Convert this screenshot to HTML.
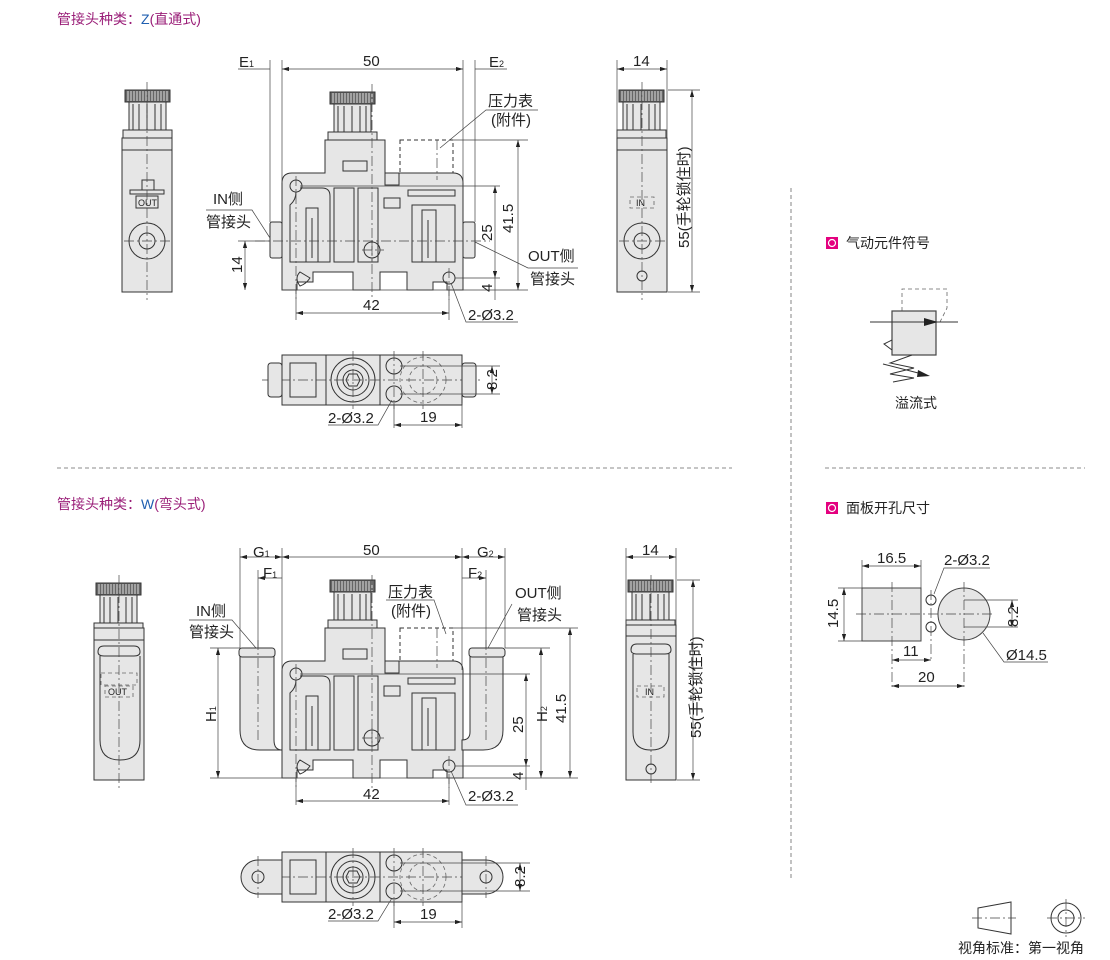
<!DOCTYPE html>
<html><head><meta charset="utf-8"><style>
html,body{margin:0;padding:0;background:#fff;}
svg{display:block;font-family:"Liberation Sans","Noto Sans CJK SC",sans-serif;}
text{fill:#222;font-size:15px;}
.o{fill:#e6e6e6;stroke:#333;stroke-width:1;}
.n{fill:none;stroke:#333;stroke-width:1;}
.t{fill:none;stroke:#444;stroke-width:.7;}
.c{fill:none;stroke:#444;stroke-width:.7;stroke-dasharray:10 3 2 3;}
.d{fill:none;stroke:#666;stroke-width:.8;stroke-dasharray:4 3;}
</style></head><body>
<svg width="1110" height="960" viewBox="0 0 1110 960" xmlns="http://www.w3.org/2000/svg">
<defs>
<marker id="a" viewBox="0 0 10 6" refX="10" refY="3" markerWidth="10" markerHeight="6" orient="auto-start-reverse"><path d="M0,0L10,3L0,6z" fill="#222"/></marker>
<g id="knob">
<rect x="0" y="0" width="45" height="12" fill="#666" stroke="#333"/>
<path d="M3,1v10M6,1v10M9,1v10M12,1v10M15,1v10M18,1v10M21,1v10M24,1v10M27,1v10M30,1v10M33,1v10M36,1v10M39,1v10M42,1v10" stroke="#ddd" stroke-width="1"/>
<rect class="o" x="4" y="12" width="37" height="36"/>
<path class="n" d="M8,14v32M14,14v32M22,14v32M30,14v32M36,14v32"/>
<rect class="o" x="-2" y="40" width="49" height="8"/>
</g>
<g id="body">
<path class="o" d="M282,183q0,-10 10,-10H325V140H385V173H453q10,0 10,10V290H447V282H433V290H407V272H380V290H353V272H313V282H297V290H282Z"/>
<rect class="o" x="400" y="140" width="53" height="33" style="fill:none;stroke-dasharray:4 3"/>
<rect class="o" x="343" y="161" width="24" height="10"/>
<rect class="o" x="385" y="173" width="14" height="12"/>
<path class="n" d="M300,188H322Q330,188 330,196V262H290V205Q296,200 296,192M306,208H318V262H306ZM312,218V258M334,188H354V262H334ZM358,188H378V262H358ZM408,190H455V196H408ZM384,198H400V208H384ZM412,205H455V262H412ZM422,210H436V262H422ZM428,220V258"/>
<circle class="n" cx="296" cy="186" r="6"/><circle class="n" cx="449" cy="278" r="6"/><circle class="n" cx="372" cy="250" r="8"/>
<path class="c" d="M296,176V300M449,268V300M372,240V262M362,250H384"/>
<path class="n" d="M300,272q-6,6 0,14q6,-2 10,-8z"/>
</g>
<g id="bottom">
<rect class="o" x="282" y="0" width="180" height="50"/>
<path class="n" d="M326,0V50M380,0V50"/>
<rect class="o" x="290" y="8" width="26" height="34"/>
<circle class="n" cx="353" cy="25" r="22"/><circle class="n" cx="353" cy="25" r="16"/><circle class="n" cx="353" cy="25" r="10"/>
<path class="n" d="M346,25l3,-6h8l3,6l-3,6h-8z"/>
<circle class="n" cx="394" cy="11" r="8"/><circle class="n" cx="394" cy="39" r="8"/>
<circle class="d" cx="423" cy="25" r="23"/><circle class="d" cx="423" cy="25" r="14"/>
<path class="c" d="M262,25H480M353,-4V54M394,-4V54M423,-4V54"/>
</g>
</defs>

<text x="57" y="24" style="fill:#9a1e78;font-size:14px">管接头种类：<tspan style="fill:#1f5fb0">Z</tspan>(直通式)</text>
<text x="57" y="509" style="fill:#9a1e78;font-size:14px">管接头种类：<tspan style="fill:#1f5fb0">W</tspan>(弯头式)</text>
<path class="d" d="M57,468H732M825,468H1085M791,188V880"/>

<use href="#knob" x="125" y="90"/>
<rect class="o" x="122" y="138" width="50" height="154"/>
<path class="n" d="M122,150H172M142,180h12v10h-12zM130,190H164V194H130ZM136,196h22v12h-22z"/>
<text x="138" y="206" style="font-size:9px">OUT</text>
<circle class="n" cx="147" cy="241" r="18"/><circle class="n" cx="147" cy="241" r="8"/>
<path class="c" d="M147,82V300M124,241H170"/>

<use href="#knob" x="330" y="92"/>
<use href="#body"/>
<rect class="o" x="270" y="222" width="12" height="36" rx="2"/><rect class="o" x="463" y="222" width="12" height="36" rx="2"/>
<path class="c" d="M255,241H490M372,84V300M437,140V180"/>
<path class="t" d="M270,60V222M282,60V183M463,60V183M475,60V222"/>
<path class="t" d="M282,69H463" marker-start="url(#a)" marker-end="url(#a)"/>
<path class="t" d="M238,69H270M475,69H507"/>
<text x="363" y="66">50</text><text x="239" y="67">E<tspan font-size="9">1</tspan></text><text x="489" y="67">E<tspan font-size="9">2</tspan></text>
<path class="t" d="M453,140H528M300,186H500M455,278H500M282,290H528M296,290V320M449,290V320"/>
<path class="t" d="M518,140V290" marker-start="url(#a)" marker-end="url(#a)"/>
<path class="t" d="M495,186V278" marker-start="url(#a)" marker-end="url(#a)"/>
<path class="t" d="M495,278V300"/>
<text transform="translate(513,233) rotate(-90)">41.5</text>
<text transform="translate(492,241) rotate(-90)">25</text>
<text transform="translate(492,292) rotate(-90)">4</text>
<path class="t" d="M245,241V290" marker-start="url(#a)" marker-end="url(#a)"/>
<path class="t" d="M238,241H270"/>
<text transform="translate(242,273) rotate(-90)">14</text>
<path class="t" d="M296,313H449" marker-start="url(#a)" marker-end="url(#a)"/>
<text x="363" y="310">42</text>
<path class="t" d="M451,283L466,322H518"/><text x="468" y="320">2-Ø3.2</text>
<text x="488" y="106">压力表</text><text x="491" y="125">(附件)</text>
<path class="t" d="M538,110H486L440,148"/>
<text x="213" y="204">IN侧</text><text x="206" y="227">管接头</text>
<path class="t" d="M206,210H252L270,238"/>
<text x="528" y="261">OUT侧</text><text x="530" y="284">管接头</text>
<path class="t" d="M578,268H528L475,242"/>

<use href="#knob" x="619" y="90"/>
<rect class="o" x="617" y="138" width="50" height="154"/>
<path class="n" d="M617,150H667"/>
<rect class="d" x="630" y="197" width="24" height="11"/><text x="636" y="206" style="font-size:9px">IN</text>
<circle class="n" cx="642" cy="241" r="18"/><circle class="n" cx="642" cy="241" r="8"/>
<circle class="n" cx="642" cy="276" r="5"/>
<path class="c" d="M642,82V300M619,241H665"/>
<path class="t" d="M617,60V138M667,60V138"/>
<path class="t" d="M617,69H667" marker-start="url(#a)" marker-end="url(#a)"/>
<text x="633" y="66">14</text>
<path class="t" d="M668,90H700M668,292H700"/>
<path class="t" d="M692,90V292" marker-start="url(#a)" marker-end="url(#a)"/>
<text transform="translate(689,248) rotate(-90)">55(手轮锁住时)</text>

<use href="#bottom" y="355"/>
<rect class="o" x="268" y="363" width="14" height="34" rx="3"/><rect class="o" x="462" y="363" width="14" height="34" rx="3"/>
<path class="t" d="M400,366H500M400,394H500"/>
<path class="t" d="M492,366V394" marker-start="url(#a)" marker-end="url(#a)"/>
<text transform="translate(497,390) rotate(-90)">8.2</text>
<path class="t" d="M394,403V428M462,403V428"/>
<path class="t" d="M394,425H462" marker-start="url(#a)" marker-end="url(#a)"/>
<text x="420" y="422">19</text>
<path class="t" d="M392,400L378,425H328"/><text x="328" y="423">2-Ø3.2</text>

<use href="#knob" x="96" y="583"/>
<rect class="o" x="94" y="628" width="50" height="152"/>
<path class="n" d="M94,640H144M98,652q0,-6 6,-6h30q6,0 6,6q0,4 -6,4h-30q-6,0 -6,-4M100,656V740q0,20 20,20q20,0 20,-20V656"/>
<rect class="d" x="101" y="673" width="36" height="12"/><rect class="d" x="105" y="686" width="28" height="11"/>
<text x="108" y="695" style="font-size:9px">OUT</text>
<path class="c" d="M119,575V790"/>

<use href="#knob" x="330" y="580"/>
<g transform="translate(0,488)"><use href="#body"/></g>
<path class="o" d="M240,656H274V740q0,10 8,10V750H260q-20,0 -20,-20Z"/>
<path class="o" d="M470,656H503V730q0,20 -20,20H462V740q8,0 8,-8Z"/>
<rect class="o" x="239" y="648" width="36" height="9" rx="3"/><rect class="o" x="469" y="648" width="36" height="9" rx="3"/>
<path class="c" d="M372,575V790M258,640V740M486,640V740M437,628V668"/>
<path class="t" d="M240,548V648M282,548V670M462,548V670M505,548V648M258,570V648M486,570V648"/>
<path class="t" d="M282,557H462" marker-start="url(#a)" marker-end="url(#a)"/>
<path class="t" d="M240,557H282" marker-start="url(#a)" marker-end="url(#a)"/>
<path class="t" d="M462,557H505" marker-start="url(#a)" marker-end="url(#a)"/>
<path class="t" d="M282,578H258" marker-end="url(#a)"/><path class="t" d="M462,578H486" marker-end="url(#a)"/>
<text x="363" y="555">50</text><text x="253" y="557">G<tspan font-size="9">1</tspan></text><text x="477" y="557">G<tspan font-size="9">2</tspan></text>
<text x="263" y="578">F<tspan font-size="9">1</tspan></text><text x="468" y="578">F<tspan font-size="9">2</tspan></text>
<path class="t" d="M210,648H240M505,648H550M453,628H578M300,674H530M455,766H530M282,778H578M296,778V805M449,778V805"/>
<path class="t" d="M218,648V778" marker-start="url(#a)" marker-end="url(#a)"/><path class="t" d="M210,778H282"/>
<text transform="translate(216,722) rotate(-90)">H<tspan font-size="9">1</tspan></text>
<path class="t" d="M541,648V778" marker-start="url(#a)" marker-end="url(#a)"/>
<text transform="translate(547,722) rotate(-90)">H<tspan font-size="9">2</tspan></text>
<path class="t" d="M570,628V778" marker-start="url(#a)" marker-end="url(#a)"/>
<text transform="translate(566,723) rotate(-90)">41.5</text>
<path class="t" d="M526,674V766" marker-start="url(#a)" marker-end="url(#a)"/>
<text transform="translate(523,733) rotate(-90)">25</text>
<path class="t" d="M526,766V790"/><text transform="translate(523,780) rotate(-90)">4</text>
<path class="t" d="M296,801H449" marker-start="url(#a)" marker-end="url(#a)"/>
<text x="363" y="799">42</text>
<path class="t" d="M451,771L466,805H518"/><text x="468" y="801">2-Ø3.2</text>
<text x="388" y="597">压力表</text><text x="391" y="616">(附件)</text>
<path class="t" d="M386,600H434L446,634"/>
<text x="196" y="616">IN侧</text><text x="189" y="637">管接头</text>
<path class="t" d="M189,620H232L256,648"/>
<text x="515" y="598">OUT侧</text><text x="517" y="620">管接头</text>
<path class="t" d="M512,604L488,648"/>

<use href="#knob" x="628" y="580"/>
<rect class="o" x="626" y="625" width="50" height="155"/>
<path class="n" d="M626,636H676M631,650q0,-6 6,-6h28q6,0 6,6q0,4 -6,4h-28q-6,0 -6,-4M633,654V732q0,18 18,18q18,0 18,-18V654"/>
<rect class="d" x="637" y="686" width="27" height="11"/><text x="645" y="695" style="font-size:9px">IN</text>
<circle class="n" cx="651" cy="769" r="5"/>
<path class="c" d="M651,575V785"/>
<path class="t" d="M626,548V625M676,548V625"/>
<path class="t" d="M626,557H676" marker-start="url(#a)" marker-end="url(#a)"/>
<text x="642" y="555">14</text>
<path class="t" d="M677,580H700M677,780H700"/>
<path class="t" d="M693,580V780" marker-start="url(#a)" marker-end="url(#a)"/>
<text transform="translate(701,738) rotate(-90)">55(手轮锁住时)</text>

<use href="#bottom" y="852"/>
<path class="o" d="M282,860H258a17,17 0 0 0 0,34H282Z"/><path class="o" d="M462,860H486a17,17 0 0 1 0,34H462Z"/>
<circle class="n" cx="258" cy="877" r="6"/><circle class="n" cx="486" cy="877" r="6"/>
<path class="c" d="M258,856V898M486,856V898"/>
<path class="t" d="M400,863H530M400,891H530"/>
<path class="t" d="M520,863V891" marker-start="url(#a)" marker-end="url(#a)"/>
<text transform="translate(525,887) rotate(-90)">8.2</text>
<path class="t" d="M394,900V928M462,900V928"/>
<path class="t" d="M394,922H462" marker-start="url(#a)" marker-end="url(#a)"/>
<text x="420" y="919">19</text>
<path class="t" d="M392,898L378,921H328"/><text x="328" y="919">2-Ø3.2</text>

<rect x="826" y="237" width="12" height="12" fill="#e4007f"/><circle cx="832" cy="243" r="3.5" fill="none" stroke="#fff" stroke-width="1.2"/>
<text x="846" y="248" style="font-size:14px">气动元件符号</text>
<path class="d" d="M902,311V289H947V308L940,322"/>
<rect x="892" y="311" width="44" height="44" fill="#e6e6e6" stroke="#444" stroke-width="1.2"/>
<path class="n" d="M870,322H958"/><path d="M924,318L938,322L924,326z" fill="#222"/>
<path class="n" d="M892,340L884,344L892,350"/>
<path class="n" d="M912,355L890,363L914,368L890,374L914,378L893,382"/>
<path class="n" d="M883,364L926,375"/><path d="M918,370L930,376L917,377z" fill="#222"/>
<text x="895" y="408" style="font-size:14px">溢流式</text>

<rect x="826" y="502" width="12" height="12" fill="#e4007f"/><circle cx="832" cy="508" r="3.5" fill="none" stroke="#fff" stroke-width="1.2"/>
<text x="846" y="513" style="font-size:14px">面板开孔尺寸</text>
<rect x="862" y="588" width="59" height="53" fill="#e6e6e6" stroke="#444"/>
<circle cx="964" cy="614" r="26" fill="#e6e6e6" stroke="#444"/>
<circle class="n" cx="931" cy="600" r="5"/><circle class="n" cx="931" cy="627" r="5"/>
<path class="c" d="M856,614H995M892,582V690M931,590V662M964,582V690"/>
<path class="t" d="M862,560V588M921,560V588"/>
<path class="t" d="M862,566H921" marker-start="url(#a)" marker-end="url(#a)"/>
<text x="877" y="563">16.5</text>
<path class="t" d="M838,588H862M838,641H862"/>
<path class="t" d="M844,588V641" marker-start="url(#a)" marker-end="url(#a)"/>
<text transform="translate(838,628) rotate(-90)">14.5</text>
<path class="t" d="M964,600H1018M964,627H1018"/>
<path class="t" d="M1012,600V627" marker-start="url(#a)" marker-end="url(#a)"/>
<text transform="translate(1018,627) rotate(-90)">8.2</text>
<path class="t" d="M892,660H931" marker-start="url(#a)" marker-end="url(#a)"/><text x="903" y="656">11</text>
<path class="t" d="M892,686H964" marker-start="url(#a)" marker-end="url(#a)"/><text x="918" y="682">20</text>
<path class="t" d="M934,594L944,568H990"/><text x="944" y="565">2-Ø3.2</text>
<path class="t" d="M983,633L1004,662H1048"/><text x="1006" y="660">Ø14.5</text>

<path class="n" d="M978,908L1011,902V934L978,928Z"/>
<path class="c" d="M972,918H1016"/>
<circle class="n" cx="1066" cy="918" r="15"/><circle class="n" cx="1066" cy="918" r="8"/>
<path class="c" d="M1047,918H1085M1066,899V937"/>
<text x="958" y="953" style="font-size:14px">视角标准：第一视角</text>
</svg>
</body></html>
